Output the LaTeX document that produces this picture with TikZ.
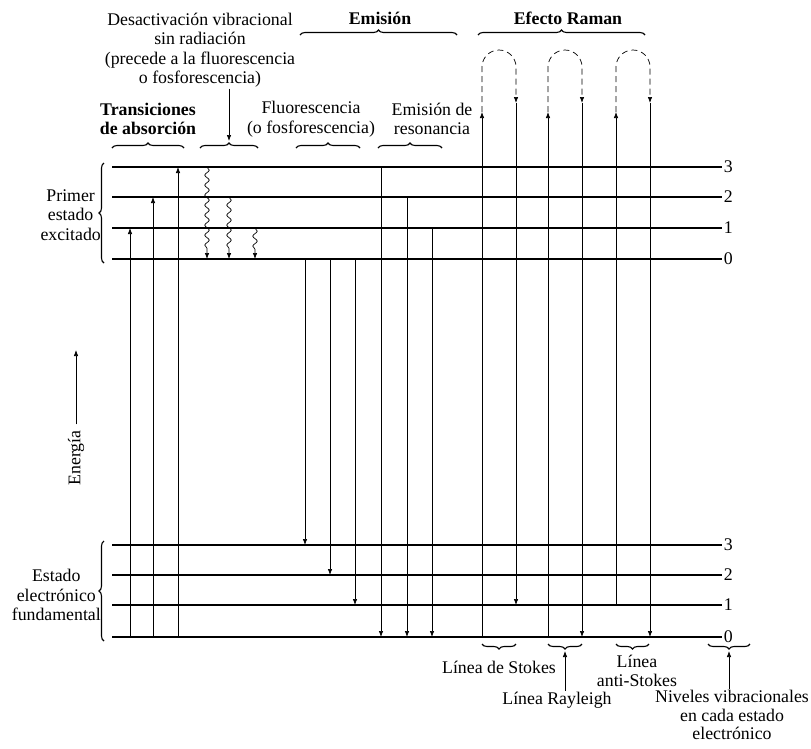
\documentclass[tikz,border=0pt]{standalone}
\usepackage{fontspec}
\setmainfont{Liberation Serif}
\usepackage{tikz}
\usetikzlibrary{arrows.meta, decorations.pathmorphing, decorations.pathreplacing}
\tikzstyle{vlevel}=[line width=1.5pt]
\tikzstyle{trans}=[line width=0.7pt, -{Latex[length=6pt, width=4.5pt]}]
\tikzstyle{wavy}=[trans, decorate, decoration={snake, amplitude=2.2pt, segment length=10pt, post length=6pt}]
\tikzstyle{grp}=[decorate, decoration={brace, amplitude=5pt}, line width=1.1pt]
\tikzstyle{txt}=[align=center, inner sep=1pt, font=\fontsize{17.8}{19.5}\selectfont]
\tikzstyle{btxt}=[txt, font=\fontsize{17.8}{19.5}\selectfont\bfseries]

\begin{document}
\begin{tikzpicture}[x=1pt, y=-1pt]
    \useasboundingbox (0,0) rectangle (811,748);

    % Vibrational levels
    \foreach \v/\y in {3/167, 2/197, 1/228, 0/259}
        \draw[vlevel] (112,\y) -- (722,\y) node[txt, right] (up\v) {\v};
    \foreach \v/\y in {3/545, 2/575, 1/605, 0/637}
        \draw[vlevel] (112,\y) -- (722,\y) node[txt, right] (gnd\v) {\v};

    % Electronic states
    \draw[grp] (104,263) -- (104,163);
    \node[txt, anchor=east] (exc) at (102,215) {Primer\\estado\\excitado};
    \draw[grp] (104,641) -- (104,541);
    \node[txt, anchor=east] (fund) at (102,595) {Estado\\electrónico\\fundamental};

    % Energy axis
    \node[txt, rotate=90] (en) at (76,458) {Energía};
    \coordinate (entop) at (76,350);
    \draw[trans, shorten <=5pt] (en) -- (entop);

    % Absorption
    \foreach \x/\y in {130/228, 153/197, 178/167}
        \draw[trans] (\x,637) -- (\x,\y);

    % Vibrational deactivation
    \foreach \x/\y in {207/167, 229/197, 255/228}
        \draw[wavy] (\x,\y) -- (\x,259);

    % Fluorescence
    \foreach \x/\y in {305/545, 330/575, 355/605}
        \draw[trans] (\x,259) -- (\x,\y);

    % Resonance emission
    \foreach \x/\y in {381/167, 407/197, 432/228}
        \draw[trans] (\x,\y) -- (\x,637);

    % Raman: Stokes, Rayleigh, anti-Stokes
    \foreach \xa/\ya/\yb in {482/637/605, 548/637/637, 616/605/637} {
        \draw[trans] (\xa,\ya) -- (\xa,112);
        \draw[trans, dash pattern=on 6pt off 4pt] (\xa,112) -- (\xa,67) arc (180:360:17) -- (\xa+34,103);
        \draw[trans] (\xa+34,103) -- (\xa+34,\yb);
    }

    % Top groups
    \draw[grp] (300,35) -- (457,35);
    \node[btxt] (emis) at (380,18) {Emisión};
    \draw[grp] (478,35) -- (645,35);
    \node[btxt] (raman) at (568,18) {Efecto Raman};

    \draw[grp] (112,148) -- (184,148);
    \node[btxt] (absor) at (148,119) {Transiciones\\de absorción};

    \draw[grp] (200,148) -- (258,148);
    \coordinate (vibtip) at (229,141);
    \node[txt] (desact) at (200,50) {Desactivación vibracional\\sin radiación\\(precede a la fluorescencia\\o fosforescencia)};
    \draw[trans] (desact.south -| vibtip) -- (vibtip);

    \draw[grp] (296,148) -- (360,148);
    \node[txt] (fluo) at (311,119) {Fluorescencia\\(o fosforescencia)};
    \draw[grp] (378,148) -- (442,148);
    \node[txt] (reso) at (432,119) {Emisión de\\resonancia};

    % Bottom groups
    \draw[grp] (516,644) -- (482,644);
    \node[txt] (stokes) at (499,667) {Línea de Stokes};

    \draw[grp] (582,644) -- (548,644);
    \coordinate (raytip) at (565,651);
    \node[txt] (rayl) at (557,700) {Línea Rayleigh};
    \draw[trans] (rayl.north -| raytip) -- (raytip);

    \draw[grp] (649,644) -- (616,644);
    \node[txt] (astokes) at (637,671) {Línea\\anti-Stokes};

    \draw[grp] (750,644) -- (708,644);
    \coordinate (nivtip) at (729,651);
    \node[txt, font=\fontsize{17.8}{18.5}\selectfont] (niv) at (732,715) {Niveles vibracionales\\en cada estado\\electrónico};
    \draw[trans] (niv.north -| nivtip) -- (nivtip);
\end{tikzpicture}
\end{document}
